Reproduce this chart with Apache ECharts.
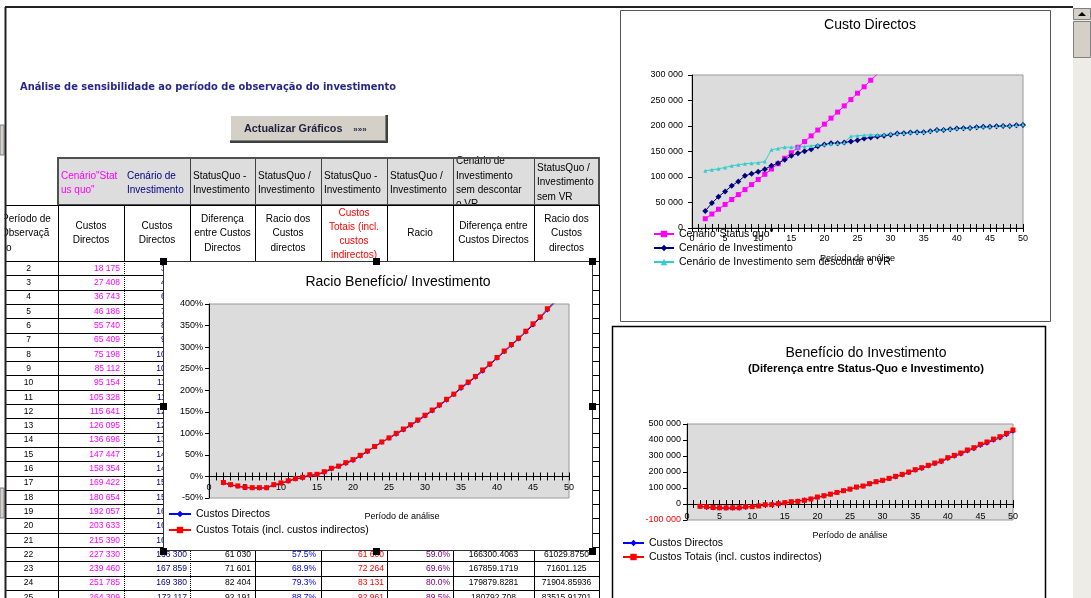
<!DOCTYPE html>
<html>
<head>
<meta charset="utf-8">
<script src="https://cdn.jsdelivr.net/npm/echarts@6/dist/echarts.min.js"></script>
<style>
html, body { margin: 0; padding: 0; background: #fff; }
#main { width: 1091px; height: 598px; }
</style>
</head>
<body>
<div id="main"></div>
<script>
// períodos de observação (eixo x)
const periods = [2, 3, 4, 5, 6, 7, 8, 9, 10, 11, 12, 13, 14, 15, 16, 17, 18, 19, 20, 21, 22, 23, 24, 25, 26,
  27, 28, 29, 30, 31, 32, 33, 34, 35, 36, 37, 38, 39, 40, 41, 42, 43, 44, 45, 46, 47, 48, 49, 50];

// Custo Directos
const statusQuo = [18175, 27408, 36743, 46186, 55740, 65409, 75198, 85112, 95154, 105328, 115641, 126095,
  136696, 147447, 158354, 169422, 180654, 192057, 203633, 215390, 227330, 239460, 251785, 264309,
  276900, 289700, 301800, 315700];
const invest = [33260, 48900, 61300, 71700, 82800, 91300, 102400, 106300, 110200, 115400, 121950, 127200,
  133700, 141500, 146700, 150650, 154600, 160100, 163700, 166300, 166300, 167859, 169380, 172117,
  175400, 177400, 179300, 180650, 182600, 185200, 185900, 187170, 187800, 187800, 189800, 192400,
  192400, 193700, 195000, 195600, 196300, 197600, 198300, 198300, 199600, 200200, 200200, 201500, 202200];
const investNoVR = [112200, 114100, 116100, 118700, 122000, 123900, 125900, 127200, 127800, 130400, 153300,
  155900, 158500, 158500, 159100, 159800, 161000, 163000, 163700, 165000, 166300, 167859, 179880, 180793,
  182000, 182600, 182600, 183300, 184600, 185800, 186500, 187770, 188400, 188400, 190400, 193000, 193000,
  194300, 195600, 196200, 196900, 198200, 198900, 198900, 200200, 200800, 200800, 202100, 202800];

// Racio Benefício/ Investimento (%)
const ratioDirectos = [-15, -20, -23, -26, -27, -27, -27, -20, -16, -11, -6, -3, 2, 4, 9, 17, 23, 30, 37, 47,
  57.5, 68.9, 79.3, 88.7, 98, 108, 118, 129, 140, 152, 164, 177, 190, 204, 217, 230, 244, 259, 274, 289,
  304, 319, 335, 351, 368, 386, 403, 421];
const ratioTotais = [-14, -19, -22, -25, -26, -26, -26, -19, -15, -10, -5, -2, 4, 5, 11, 19, 24, 32, 39, 49,
  59, 69.6, 80.0, 89.5, 100, 110, 120, 131, 142, 154, 166, 179, 191, 207, 219, 232, 247, 261, 276, 291,
  306, 321, 337, 354, 370, 389, 406, 424];

// Benefício do Investimento
const benefDirectos = [-15085, -21490, -24557, -25514, -27060, -25891, -27202, -21188, -15046, -10072, -6309,
  -1105, 2996, 5947, 11654, 18772, 26054, 31957, 39933, 49090, 61030, 71601, 82404, 92191, 104000, 110500,
  124500, 136800, 145000, 157200, 169500, 181600, 196000, 210400, 222600, 237000, 251000, 263600, 284000,
  298000, 312600, 331000, 345200, 365800, 380000, 398000, 412600, 433000, 454000];
const benefTotais = [-14600, -16700, -21800, -23500, -24000, -23500, -23000, -16700, -16700, -12500, -4200,
  -4200, 2000, 8300, 14600, 16700, 22900, 31300, 43800, 52000, 61600, 72264, 83131, 92961, 106000, 112500,
  127000, 139600, 148000, 160400, 173000, 185400, 200000, 214600, 227000, 241700, 256000, 268750, 289600,
  304000, 318750, 337500, 352000, 373000, 387500, 406000, 420800, 441700, 462500];

// colunas da tabela só em texto (linhas 22 a 25)
const colHText = ['166300.4063', '167859.1719', '179879.8281', '180792.708'];
const colIText = ['61029.8750', '71601.125', '71904.85936', '83515.91701'];

const FONT = '"Liberation Sans", Arial, sans-serif';

function spaced(v) {
  const s = Math.round(Math.abs(v)).toString().replace(/\B(?=(\d{3})+(?!\d))/g, ' ');
  return (v < 0 ? '-' : '') + s;
}
function pairs(vals) {
  return vals.map((v, i) => [periods[i], v]);
}

// ---------- elementos gráficos (folha de cálculo) ----------
const els = [];
function text(x, y, s, color, size, align, weight, z) {
  els.push({
    type: 'text', x: x, y: y, z: z == null ? 1 : z, silent: true,
    style: {
      text: s, fill: color, font: (weight || 'normal') + ' ' + size + 'px ' + FONT,
      textAlign: align || 'left', align: align || 'left',
      textVerticalAlign: 'middle', verticalAlign: 'middle'
    }
  });
}
function line(x1, y1, x2, y2, color, w, z, dash) {
  els.push({
    type: 'line', z: z == null ? 3 : z, silent: true,
    shape: { x1: x1, y1: y1, x2: x2, y2: y2 },
    style: { stroke: color, lineWidth: w || 1, lineDash: dash || null }
  });
}
function rect(x, y, w, h, fill, stroke, lw, z) {
  els.push({
    type: 'rect', z: z == null ? 0 : z, silent: true,
    shape: { x: x, y: y, width: w, height: h },
    style: { fill: fill || null, stroke: stroke || null, lineWidth: lw || 1 }
  });
}

// título da folha
els.push({
  type: 'text', x: 20, y: 87, z: 1, silent: true,
  style: {
    text: 'Análise de sensibilidade ao período de observação do investimento', fill: '#27278a',
    font: 'bold 9.9px "DejaVu Sans", Verdana, sans-serif', textVerticalAlign: 'middle', verticalAlign: 'middle'
  }
});

// botão
rect(230, 115, 157, 27, '#D4D0C8', null, 1, 0);
line(230, 115.5, 386, 115.5, '#ffffff', 1, 1);
line(230.5, 115, 230.5, 141, '#ffffff', 1, 1);
line(230, 140.5, 386, 140.5, '#808080', 1, 1);
line(385.5, 115, 385.5, 141, '#808080', 1, 1);
line(230, 142, 388, 142, '#404040', 2, 1);
line(387, 115, 387, 143, '#404040', 2, 1);
text(244, 129, 'Actualizar Gráficos', '#1f1f3f', 10.8, 'left', 'bold');
text(360, 130, '»»»', '#1f1f3f', 8, 'center', 'bold');

// tabela
const colX = [5, 58, 124, 190, 255, 321, 387, 453, 534, 599];
const ROW0 = 261, ROWH = 14.3;

rect(58, 158, 541, 47, '#DDDDDD', null, 1, 0);
[190, 255, 321, 387, 453, 534].forEach(x => line(x + 0.5, 158, x + 0.5, 205, '#404040', 1, 3));
rect(58, 158, 541, 47, null, '#505050', 2, 3);
line(5, 205.5, 599, 205.5, '#000', 1, 3);
colX.slice(1).forEach(x => line(x + 0.5, 205, x + 0.5, 261, '#000', 1, 3));
colX.slice(1).forEach(x => {
  const dotted = (x === 124 || x === 190);
  line(x + 0.5, 261, x + 0.5, 598, '#000', 1, 3, dotted ? [1, 1] : null);
});
for (let k = 0; k <= 24; k++) {
  const y = Math.round(ROW0 + k * ROWH) + 0.5;
  line(5, y, 599, y, '#000', 1, 3);
}

// cabeçalho linha 1
text(61, 176, 'Cenário"Stat', '#FF00FF', 10);
text(61, 190, 'us quo"', '#FF00FF', 10);
text(127, 176, 'Cenário de', '#000080', 10);
text(127, 190, 'Investimento', '#000080', 10);
[[193, '-'], [258, '/'], [324, '-'], [390, '/']].forEach(c => {
  text(c[0], 176, 'StatusQuo ' + c[1], '#000', 10);
  text(c[0], 190, 'Investimento', '#000', 10);
});
text(456, 161, 'Cenário de', '#000', 10);
text(456, 176, 'Investimento', '#000', 10);
text(456, 190, 'sem descontar', '#000', 10);
text(456, 204, 'o VR', '#000', 10);
rect(454, 206, 79, 5, '#fff', null, 1, 2);
text(537, 168, 'StatusQuo /', '#000', 10);
text(537, 182, 'Investimento', '#000', 10);
text(537, 197, 'sem VR', '#000', 10);

// cabeçalho linha 2
text(2, 219, 'Período de', '#000', 10);
text(1, 233, 'Observaçã', '#000', 10);
text(6, 248, 'o', '#000', 10);
[91, 157].forEach(cx => {
  text(cx, 226, 'Custos', '#000', 10, 'center');
  text(cx, 240, 'Directos', '#000', 10, 'center');
});
text(222.5, 219, 'Diferença', '#000', 10, 'center');
text(222.5, 233, 'entre Custos', '#000', 10, 'center');
text(222.5, 248, 'Directos', '#000', 10, 'center');
[288, 566.5].forEach(cx => {
  text(cx, 219, 'Racio dos', '#000', 10, 'center');
  text(cx, 233, 'Custos', '#000', 10, 'center');
  text(cx, 248, 'directos', '#000', 10, 'center');
});
text(354, 213, 'Custos', '#FF0000', 10, 'center');
text(354, 227, 'Totais (incl.', '#FF0000', 10, 'center');
text(354, 241, 'custos', '#FF0000', 10, 'center');
text(354, 255, 'indirectos)', '#FF0000', 10, 'center');
text(420, 233, 'Racio', '#000', 10, 'center');
text(493.5, 226, 'Diferença entre', '#000', 10, 'center');
text(493.5, 240, 'Custos Directos', '#000', 10, 'center');

// linhas de dados (períodos 2 a 25)
for (let k = 0; k < 24; k++) {
  const p = periods[k];
  const yc = ROW0 + k * ROWH + 7.5;
  text(28.5, yc, String(p), '#000', 8.5, 'center');
  text(120, yc, spaced(statusQuo[k]), '#FF00FF', 8.5, 'right');
  text(187, yc, spaced(invest[k]), '#000080', 8.5, 'right');
  if (p >= 22) {
    const j = p - 22;
    text(251, yc, spaced(benefDirectos[k]), '#000', 8.5, 'right');
    text(316, yc, ratioDirectos[k].toFixed(1) + '%', '#0000FF', 8.5, 'right');
    text(384, yc, spaced(benefTotais[k]), '#FF0000', 8.5, 'right');
    text(450, yc, ratioTotais[k].toFixed(1) + '%', '#800080', 8.5, 'right');
    text(493.5, yc, colHText[j], '#000', 8.5, 'center');
    text(566.5, yc, colIText[j], '#000', 8.5, 'center');
  }
}

// moldura da janela
rect(0, 0, 4.5, 598, '#fff', null, 1, 4);
rect(0, 125, 4, 30, '#D4D0C8', '#808080', 1, 4);
rect(0, 488, 4, 30, '#D4D0C8', '#808080', 1, 4);
line(5, 7, 1073, 7, '#222', 2, 4);
line(5.5, 7, 5.5, 598, '#222', 2, 4);

// barra de deslocamento
rect(1073, 8, 18, 590, '#EDECE6', null, 1, 4);
rect(1073.5, 8.5, 17, 11, '#D4D0C8', '#808080', 1, 4);
els.push({ type: 'polygon', z: 5, silent: true, shape: { points: [[1078, 16], [1086, 16], [1082, 12]] }, style: { fill: '#000' } });
rect(1073.5, 21.5, 17, 36, '#D4D0C8', '#808080', 1, 4);

// molduras dos gráficos
rect(620.5, 10.5, 430, 311, '#fff', '#555', 1, 5);
rect(612.5, 326.5, 433, 290, '#fff', '#000', 1.5, 5);
rect(163.5, 261.5, 429, 289, '#fff', '#333', 1, 5);
[[163, 261], [376, 261], [592, 261], [163, 406], [592, 406], [163, 551], [376, 551], [592, 551]].forEach(h => {
  rect(h[0] - 3, h[1] - 3, 7, 7, '#000', null, 1, 12);
});

// títulos dos gráficos
text(870, 25, 'Custo Directos', '#000', 14, 'center', 'normal', 10);
text(398, 282, 'Racio Benefício/ Investimento', '#000', 14, 'center', 'normal', 10);
text(866, 353, 'Benefício do Investimento', '#000', 14, 'center', 'normal', 10);
text(866, 369, '(Diferença entre Status-Quo e Investimento)', '#000', 11.3, 'center', 'bold', 10);

// ---------- grelhas e eixos ----------
const grids = [
  { left: 692, top: 75, width: 331, height: 153 },
  { left: 209, top: 304, width: 360, height: 194 },
  { left: 687, top: 424, width: 326, height: 96 }
];
const yRanges = [[0, 300000, 50000], [-50, 400, 50], [-100000, 500000, 100000]];

// eixo x cruza o eixo y no valor 0: desloca os dois eixos x (marcas em cruz) até essa linha
function xAxes(gridIndex, labelMargin, nameGap, namePad) {
  const r = yRanges[gridIndex];
  const h = grids[gridIndex].height;
  const zeroFrac = (0 - r[0]) / (r[1] - r[0]);
  const common = {
    type: 'value', gridIndex: gridIndex, min: 0, max: 50, interval: 1, z: 7,
    splitLine: { show: false }
  };
  return [
    Object.assign({}, common, {
      position: 'bottom', offset: -zeroFrac * h,
      name: 'Período de análise', nameLocation: 'middle', nameGap: nameGap,
      nameTextStyle: { fontSize: 9, color: '#000', fontFamily: FONT, padding: [0, 0, 0, namePad || 0] },
      axisLine: { show: true, onZero: false, lineStyle: { color: '#000', width: 1 } },
      axisTick: { show: true, length: 4, lineStyle: { color: '#000' } },
      axisLabel: {
        show: true, fontSize: 9, color: '#000', fontFamily: FONT, margin: labelMargin,
        showMinLabel: true, showMaxLabel: true,
        formatter: v => (v % 5 === 0 ? String(v) : '')
      }
    }),
    Object.assign({}, common, {
      position: 'top', offset: -(1 - zeroFrac) * h,
      axisLine: { show: true, onZero: false, lineStyle: { color: '#000', width: 1 } },
      axisTick: { show: true, length: 4, lineStyle: { color: '#000' } },
      axisLabel: { show: false }
    })
  ];
}
function yAxis(gridIndex, margin, formatter) {
  const r = yRanges[gridIndex];
  return {
    type: 'value', gridIndex: gridIndex, min: r[0], max: r[1], interval: r[2], z: 7,
    axisLine: { show: true, onZero: false, lineStyle: { color: '#000', width: 1 } },
    axisTick: { show: true, length: 4, lineStyle: { color: '#000' } },
    axisLabel: {
      fontSize: 9, color: '#000', fontFamily: FONT, margin: margin,
      showMinLabel: true, showMaxLabel: true, formatter: formatter,
      rich: { neg: { color: '#FF0000', fontSize: 9, fontFamily: FONT } }
    },
    splitLine: { show: false }
  };
}

function lineSeries(name, xi, yi, vals, symbol, size, color) {
  return {
    name: name, type: 'line', xAxisIndex: xi, yAxisIndex: yi, data: pairs(vals),
    symbol: symbol, symbolSize: size, showAllSymbol: true, clip: true, z: 8,
    lineStyle: { color: color, width: 1 }, itemStyle: { color: color },
    emphasis: { disabled: true }
  };
}

const legendText = { fontSize: 10.5, color: '#000', fontFamily: FONT };

const option = {
  animation: false,
  backgroundColor: '#fff',
  graphic: els,
  grid: grids.map(g => Object.assign({
    show: true, backgroundColor: '#DCDCDC', borderColor: '#999', borderWidth: 1, z: 6, outerBoundsMode: 'none'
  }, g)),
  xAxis: [].concat(xAxes(0, 6, 26, 0), xAxes(1, 7, 36, 26), xAxes(2, 8, 27, 0)),
  yAxis: [
    yAxis(0, 9, v => spaced(v)),
    yAxis(1, 6, v => v + '%'),
    yAxis(2, 6, v => (v < 0 ? '{neg|' + spaced(v) + '}' : spaced(v)))
  ],
  legend: [
    {
      data: ['Cenário"Status quo"', 'Cenário de Investimento', 'Cenário de Investimento sem descontar o VR'],
      orient: 'vertical', left: 653, top: 227, padding: 0, itemGap: 0, itemWidth: 20, itemHeight: 8, z: 10,
      selectedMode: false, textStyle: Object.assign({ lineHeight: 14 }, legendText)
    },
    {
      data: ['Custos Directos', 'Custos Totais (incl. custos indirectos)'],
      orient: 'vertical', left: 168, top: 506, padding: 0, itemGap: 0, itemWidth: 22, itemHeight: 8, z: 10,
      selectedMode: false, textStyle: Object.assign({ lineHeight: 16 }, legendText)
    },
    {
      data: ['Custos Directos', 'Custos Totais (incl. custos indirectos)'],
      orient: 'vertical', left: 622, top: 536, padding: 0, itemGap: 0, itemWidth: 21, itemHeight: 8, z: 10,
      selectedMode: false, textStyle: Object.assign({ lineHeight: 14 }, legendText)
    }
  ],
  series: [
    lineSeries('Cenário"Status quo"', 0, 0, statusQuo, 'rect', 5, '#FF00FF'),
    lineSeries('Cenário de Investimento', 0, 0, invest, 'diamond', 6, '#000080'),
    lineSeries('Cenário de Investimento sem descontar o VR', 0, 0, investNoVR, 'triangle', 4, '#33CCCC'),
    lineSeries('Custos Directos', 2, 1, ratioDirectos, 'diamond', 5, '#0000FF'),
    lineSeries('Custos Totais (incl. custos indirectos)', 2, 1, ratioTotais, 'rect', 5, '#FF0000'),
    lineSeries('Custos Directos', 4, 2, benefDirectos, 'diamond', 5, '#0000FF'),
    lineSeries('Custos Totais (incl. custos indirectos)', 4, 2, benefTotais, 'rect', 5, '#FF0000')
  ]
};

const chart = echarts.init(document.getElementById('main'), null, { renderer: 'canvas' });
chart.setOption(option);
window.addEventListener('resize', () => chart.resize());
</script>
</body>
</html>
